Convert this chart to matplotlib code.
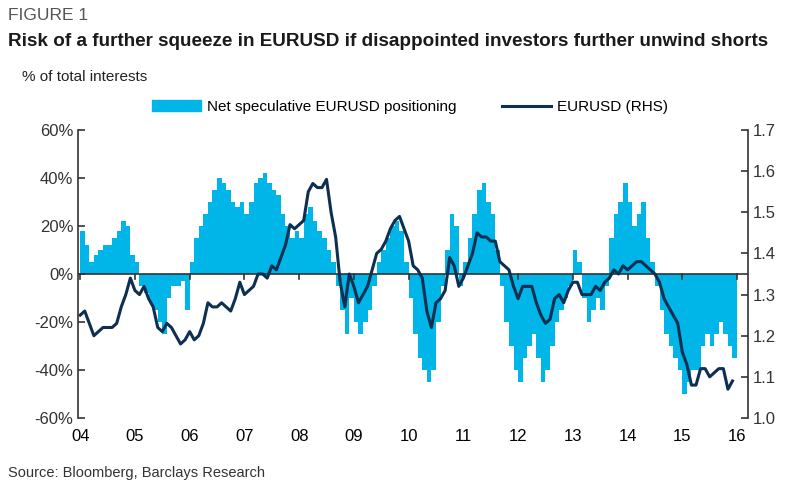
import numpy as np
import matplotlib.pyplot as plt
from matplotlib.patches import Patch
from matplotlib.lines import Line2D

plt.rcParams['font.family'] = ['Liberation Sans', 'DejaVu Sans']

# monthly values, Jan 2004 - Dec 2015
positioning = [
    18, 12, 5, 8, 10, 12, 12, 15, 18, 22, 20, 8,
    5, -5, -8, -12, -15, -20, -25, -10, -5, -5, -3, -15,
    5, 15, 20, 25, 30, 35, 40, 38, 35, 30, 28, 30,
    25, 30, 38, 40, 42, 38, 35, 33, 25, 20, 15, 18,
    15, 25, 28, 22, 18, 15, 10, 5, -5, -15, -25, -10,
    -20, -25, -20, -15, -5, 5, 10, 15, 20, 22, 18, 5,
    -10, -25, -35, -40, -45, -40, -20, -5, 10, 25, 20, -5,
    5, 15, 25, 35, 38, 30, 25, 10, -5, -20, -30, -40,
    -45, -35, -30, -25, -35, -45, -40, -30, -20, -15, -10, -5,
    10, 5, -10, -20, -15, -10, -15, -5, 15, 25, 30, 38,
    30, 20, 25, 30, 15, 5, -5, -15, -25, -30, -35, -40,
    -50, -45, -40, -40, -30, -25, -30, -25, -20, -25, -30, -35,
]
eurusd = [
    1.25, 1.26, 1.23, 1.20, 1.21, 1.22, 1.22, 1.22, 1.23, 1.27, 1.30, 1.34,
    1.31, 1.30, 1.32, 1.29, 1.27, 1.22, 1.21, 1.23, 1.22, 1.20, 1.18, 1.19,
    1.21, 1.19, 1.20, 1.23, 1.28, 1.27, 1.27, 1.28, 1.27, 1.26, 1.29, 1.33,
    1.30, 1.31, 1.32, 1.35, 1.35, 1.34, 1.37, 1.36, 1.39, 1.42, 1.47, 1.46,
    1.47, 1.48, 1.55, 1.57, 1.56, 1.56, 1.58, 1.50, 1.44, 1.33, 1.27, 1.35,
    1.32, 1.28, 1.30, 1.32, 1.36, 1.40, 1.41, 1.43, 1.46, 1.48, 1.49, 1.46,
    1.43, 1.37, 1.36, 1.34, 1.26, 1.22, 1.28, 1.29, 1.31, 1.39, 1.37, 1.32,
    1.34, 1.37, 1.40, 1.45, 1.44, 1.44, 1.43, 1.43, 1.38, 1.37, 1.36, 1.32,
    1.29, 1.32, 1.32, 1.32, 1.28, 1.25, 1.23, 1.24, 1.29, 1.30, 1.28, 1.31,
    1.33, 1.33, 1.30, 1.30, 1.30, 1.32, 1.31, 1.33, 1.34, 1.36, 1.35, 1.37,
    1.36, 1.37, 1.38, 1.38, 1.37, 1.36, 1.35, 1.33, 1.29, 1.27, 1.25, 1.23,
    1.16, 1.13, 1.08, 1.08, 1.12, 1.12, 1.10, 1.11, 1.12, 1.12, 1.07, 1.09,
]
year_labels = ['04', '05', '06', '07', '08', '09', '10', '11', '12', '13', '14', '15', '16']

t = 2004 + np.arange(len(eurusd)) / 12
bar_col = '#00b5e8'
line_col = '#0c2f52'

fig = plt.figure(figsize=(7.91, 4.87), dpi=100)
ax = fig.add_axes([78 / 791, 69 / 487, 670 / 791, 288 / 487])
ax.bar(t, positioning, width=1 / 12, color=bar_col, align='edge', linewidth=0)
ax.set_ylim(-60, 60)
ax.set_xlim(2003.96, 2016.2)
ax.set_yticks(range(-60, 61, 20))
ax.set_yticklabels([f'{v}%' for v in range(-60, 61, 20)], fontsize=12)
ax.axhline(0, color='#333333', lw=1.2)
ax.set_xticks(range(2004, 2017))
ax.set_xticklabels(year_labels, fontsize=12)
ax.tick_params(axis='x', length=0, pad=8)
ax.tick_params(axis='y', direction='in', length=5, width=1.2, colors='#333333')
for yr in range(2004, 2017):
    ax.plot([yr, yr], [0, -2], color='#333333', lw=1.2)
for s in ['top', 'right', 'bottom']:
    ax.spines[s].set_visible(False)
ax.spines['left'].set_color('#333333')
ax.spines['left'].set_linewidth(1.2)

ax2 = ax.twinx()
ax2.plot(t, eurusd, color=line_col, lw=2.2)
ax2.set_ylim(1.0, 1.7)
ax2.set_yticks(np.arange(1.0, 1.71, 0.1))
ax2.set_yticklabels([f'{v:.1f}' for v in np.arange(1.0, 1.71, 0.1)], fontsize=12)
ax2.tick_params(axis='y', direction='in', length=5, width=1.2, colors='#333333')
for s in ['top', 'left', 'bottom']:
    ax2.spines[s].set_visible(False)
ax2.spines['right'].set_color('#333333')
ax2.spines['right'].set_linewidth(1.2)

fig.text(8 / 791, 1 - 16 / 487, 'FIGURE 1', fontsize=12.5, color='#555555', va='center')
fig.text(8 / 791, 1 - 42 / 487, 'Risk of a further squeeze in EURUSD if disappointed investors further unwind shorts',
         fontsize=13.6, fontweight='bold', color='#1a1a1a', va='center')
fig.text(22 / 791, 1 - 77 / 487, '% of total interests', fontsize=11, color='#222222', va='center')
fig.text(8 / 791, 1 - 473 / 487, 'Source: Bloomberg, Barclays Research', fontsize=10.5, color='#333333', va='center')

handles = [Patch(color=bar_col, label='Net speculative EURUSD positioning'),
           Line2D([], [], color=line_col, lw=2.2, label='EURUSD (RHS)')]
fig.legend(handles=handles, loc='center', bbox_to_anchor=(410 / 791, 1 - 107 / 487), ncol=2,
           frameon=False, fontsize=11, handlelength=3.2, columnspacing=3, handletextpad=0.4)

fig.savefig('out.png', dpi=100)
